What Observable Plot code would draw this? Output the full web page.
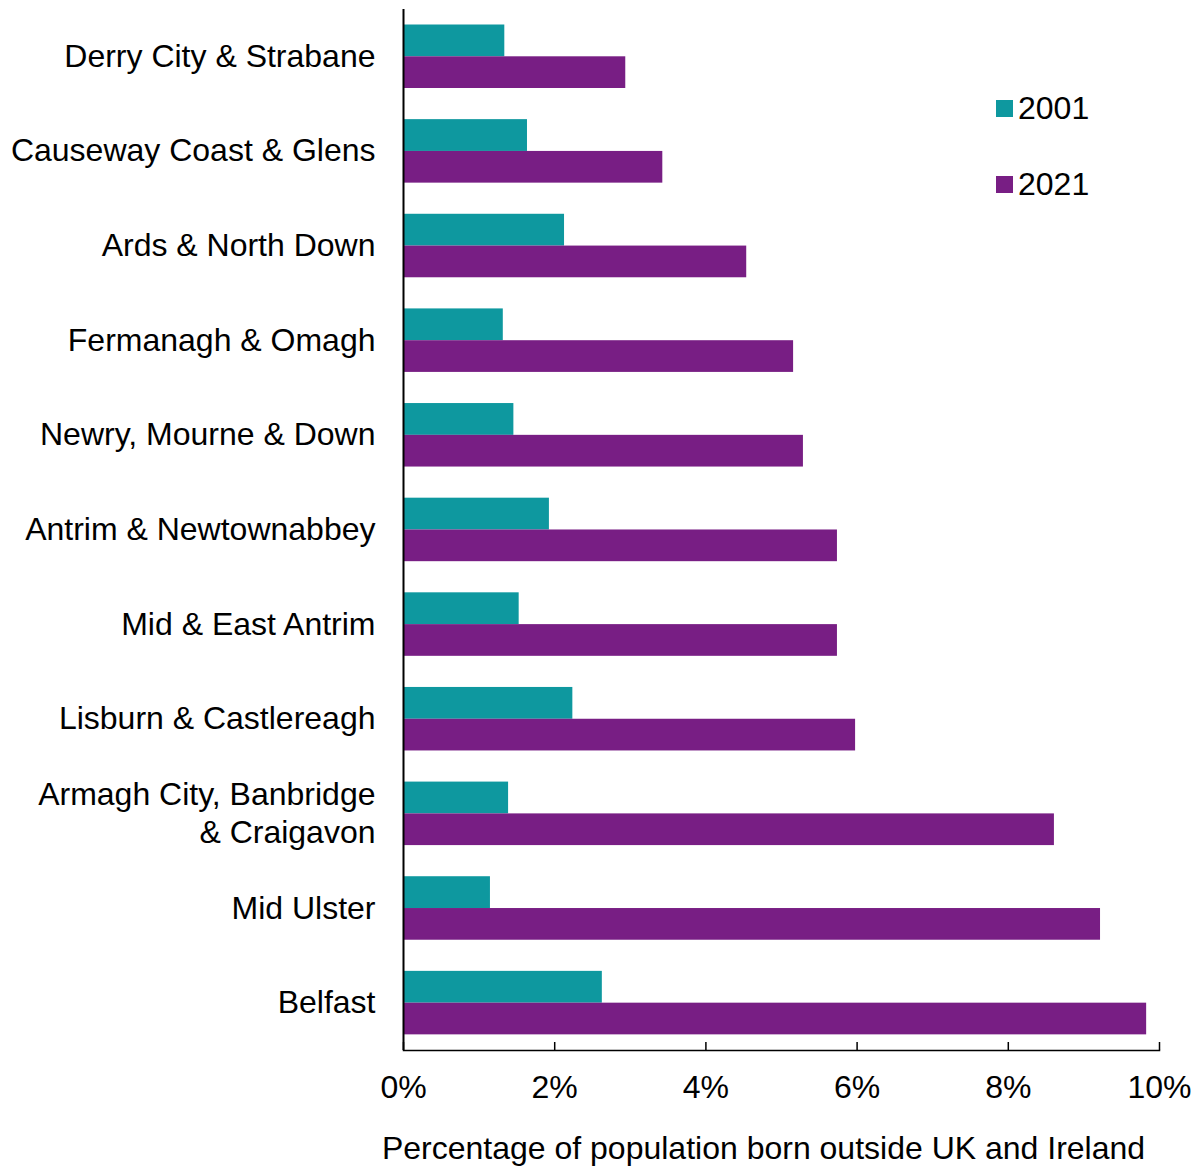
<!DOCTYPE html>
<html><head><meta charset="utf-8">
<script src="https://cdn.jsdelivr.net/npm/d3@7"></script>
<script src="https://cdn.jsdelivr.net/npm/@observablehq/plot@0.6"></script>
<style>
body{margin:0;background:#fff;font-family:"Liberation Sans",Arial,sans-serif;}
#wrap{position:relative;width:1200px;height:1167px;}
.leg{position:absolute;left:996px;display:flex;align-items:center;font-size:32px;color:#000;line-height:1;}
.leg span.sw{display:inline-block;width:17px;height:17px;margin-right:5px;}
</style></head><body><div id="wrap"></div>
<script>
const regions = ["Derry City & Strabane","Causeway Coast & Glens","Ards & North Down","Fermanagh & Omagh","Newry, Mourne & Down","Antrim & Newtownabbey","Mid & East Antrim","Lisburn & Castlereagh","Armagh City, Banbridge & Craigavon","Mid Ulster","Belfast"];
const values2001 = [1.34,1.64,2.13,1.32,1.46,1.93,1.53,2.24,1.39,1.15,2.63];
const values2021 = [2.94,3.43,4.54,5.16,5.29,5.74,5.74,5.98,8.61,9.22,9.83];
const years = ["2001","2021"];
const colors = ["#0e989f","#781e84"];
const xTicks = [0,2,4,6,8,10];
const xLabel = "Percentage of population born outside UK and Ireland";
const labelText = {"Armagh City, Banbridge & Craigavon": "Armagh City, Banbridge\n& Craigavon"};

const rows = [];
regions.forEach((r,i)=>{
  rows.push({region:r, year:years[0], value:values2001[i]});
  rows.push({region:r, year:years[1], value:values2021[i]});
});

const W=1200,H=1167,mt=9,mb=117,ml=403,mr=41;
const plotH = H-mt-mb;
const band = plotH/regions.length;

const chart = Plot.plot({
  width: W, height: H,
  marginTop: mt, marginBottom: mb, marginLeft: ml, marginRight: mr,
  style: {fontFamily: '"Liberation Sans", Arial, sans-serif', fontSize: "32px", color:"#000", background:"#fff"},
  x: {domain:[0,10], ticks: xTicks, tickFormat: d => d + "%"},
  y: {domain: regions, padding: 0, round: false},
  color: {domain: years, range: colors},
  marks: [
    Plot.barX(rows.filter(d=>d.year===years[0]), {x:"value", y:"region", fill:"year", insetTop: 15.5, insetBottom: band-47.3}),
    Plot.barX(rows.filter(d=>d.year===years[1]), {x:"value", y:"region", fill:"year", insetTop: 47.3, insetBottom: band-79}),
    Plot.axisY({tickSize:0, tickPadding:28, fontSize:32, lineHeight:1.17, dy:-2, tickFormat: d => labelText[d] || d, label:null}),
    Plot.axisX(xTicks, {tickSize:0, tickPadding:25, fontSize:32, tickFormat: d => d + "%", label:null}),
    Plot.tickX(xTicks, {x: d=>d, insetTop: plotH-8, stroke:"#000", strokeWidth:1.5}),
    Plot.ruleX([0], {stroke:"#000", strokeWidth:2}),
    Plot.frame({anchor:"bottom", stroke:"#000", strokeWidth:1.5}),
    Plot.text([xLabel], {text: d=>d, frameAnchor:"bottom", dy: 108, dx: -18, fontSize: 32, fill:"#000"})
  ]
});
const wrap = document.getElementById("wrap");
wrap.appendChild(chart);
const legTops = [92, 168];
years.forEach((y,i)=>{
  const d = document.createElement("div");
  d.className="leg";
  d.style.top = legTops[i]+"px";
  d.innerHTML = `<span class="sw" style="background:${colors[i]}"></span><span>${y}</span>`;
  wrap.appendChild(d);
});
</script></body></html>
